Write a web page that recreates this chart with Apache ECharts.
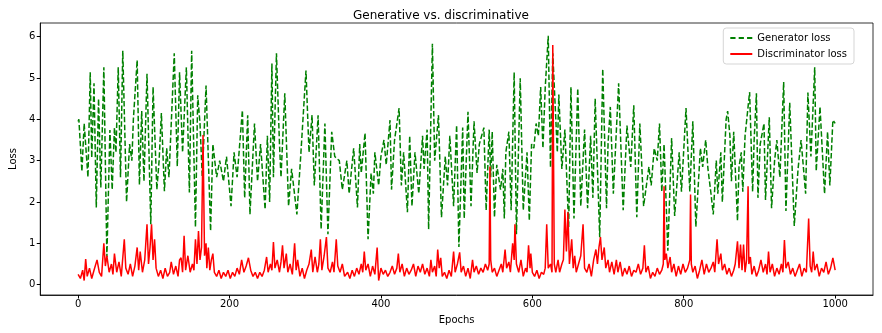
<!DOCTYPE html>
<html>
<head>
<meta charset="utf-8">
<script src="https://cdn.jsdelivr.net/npm/echarts@6/dist/echarts.min.js"></script>
<style>
  body { margin: 0; background: #fff; }
  #chart { width: 882px; height: 333px; }
</style>
</head>
<body>
<div id="chart"></div>
<script>
// generator loss (epoch, loss)
var genEpochs = [0, 1, 5, 8, 13, 16, 18, 21, 24, 27, 30, 34, 38, 42, 45, 48, 50, 53, 56, 59, 64, 68, 71, 73, 78, 81, 84, 87, 91, 96, 99, 104, 107, 110, 114, 117, 120, 127, 131, 134, 138, 143, 147, 150, 155, 158, 161, 164, 169, 175, 178, 183, 187, 192, 196, 202, 206, 210, 217, 220, 224, 227, 233, 237, 241, 247, 250, 253, 256, 258, 262, 266, 268, 273, 278, 282, 289, 294, 301, 305, 309, 312, 317, 321, 326, 330, 335, 339, 345, 349, 355, 358, 364, 369, 372, 374, 379, 383, 387, 390, 392, 397, 400, 404, 407, 412, 414, 418, 424, 427, 430, 435, 438, 441, 445, 450, 455, 457, 461, 463, 468, 471, 476, 480, 485, 488, 491, 496, 500, 503, 508, 510, 515, 519, 523, 527, 530, 536, 539, 543, 545, 547, 550, 553, 558, 561, 563, 565, 569, 572, 576, 579, 584, 588, 593, 596, 599, 602, 605, 608, 611, 614, 617, 621, 624, 627, 633, 635, 639, 643, 648, 651, 655, 660, 664, 669, 673, 677, 680, 683, 689, 693, 698, 700, 703, 707, 714, 720, 725, 730, 734, 738, 742, 747, 754, 757, 761, 765, 768, 771, 774, 779, 784, 788, 794, 797, 803, 808, 812, 816, 822, 825, 829, 832, 836, 839, 843, 845, 849, 851, 856, 858, 861, 863, 866, 871, 873, 876, 878, 881, 887, 891, 893, 896, 898, 901, 906, 908, 913, 916, 920, 923, 927, 932, 935, 940, 946, 951, 955, 961, 964, 968, 973, 975, 980, 986, 990, 993, 997, 1000];
var genLoss = [3.95, 4.0, 2.74, 3.9, 2.6, 5.14, 3.07, 4.87, 1.87, 4.5, 2.35, 5.26, 0.67, 3.74, 2.3, 3.8, 3.2, 5.26, 2.6, 5.66, 2.0, 3.4, 3.0, 4.0, 5.43, 2.42, 4.2, 2.5, 5.1, 1.46, 4.78, 2.3, 3.0, 4.15, 2.26, 3.3, 2.6, 5.6, 2.86, 5.14, 3.2, 5.26, 2.23, 5.66, 1.39, 4.58, 3.9, 2.6, 4.82, 1.3, 3.4, 2.6, 3.0, 2.5, 3.1, 1.9, 3.2, 2.6, 4.22, 2.1, 4.1, 1.7, 3.9, 2.5, 3.4, 1.82, 3.6, 2.0, 5.35, 2.6, 5.6, 3.4, 2.6, 4.63, 1.9, 2.8, 1.7, 3.1, 5.18, 3.2, 4.1, 2.4, 4.1, 1.34, 3.9, 1.22, 3.7, 3.1, 3.0, 2.3, 3.0, 2.2, 3.3, 1.87, 3.4, 2.7, 3.67, 1.1, 2.7, 2.2, 3.2, 2.4, 3.1, 3.5, 2.9, 3.98, 2.3, 3.5, 4.27, 2.4, 3.2, 1.75, 3.6, 1.9, 3.2, 2.2, 3.6, 2.8, 3.75, 1.34, 5.83, 3.0, 4.1, 1.63, 3.1, 2.4, 3.6, 1.9, 3.86, 0.91, 3.8, 1.6, 4.18, 1.9, 3.95, 2.7, 3.4, 3.8, 1.8, 3.75, 2.6, 3.7, 1.63, 2.9, 2.3, 2.8, 1.6, 3.2, 3.7, 1.8, 5.14, 1.22, 4.99, 1.8, 3.2, 1.55, 3.4, 3.3, 3.9, 3.6, 4.78, 3.3, 4.75, 6.02, 2.83, 5.6, 3.2, 4.6, 2.8, 3.75, 1.39, 4.78, 1.6, 4.75, 1.9, 3.75, 1.85, 3.6, 2.1, 4.5, 1.15, 5.22, 1.85, 3.4, 4.3, 2.2, 4.87, 1.8, 3.85, 2.85, 4.34, 1.63, 3.9, 1.9, 2.85, 2.4, 3.3, 3.0, 3.9, 2.25, 3.4, 0.82, 3.55, 1.66, 3.2, 2.25, 4.27, 2.25, 3.95, 1.4, 3.3, 2.85, 3.5, 2.8, 2.2, 1.7, 3.0, 2.2, 3.2, 2.0, 4.0, 4.2, 3.6, 2.5, 3.7, 1.54, 2.85, 3.2, 2.25, 3.6, 4.66, 2.25, 3.5, 4.63, 2.1, 3.4, 3.9, 2.05, 4.05, 1.85, 3.0, 3.5, 2.6, 4.9, 1.78, 4.4, 1.42, 2.8, 3.5, 2.2, 4.65, 3.1, 5.26, 2.75, 4.3, 2.2, 3.7, 2.4, 3.98, 3.9];

// discriminator loss (epoch, loss)
var discEpochs = [0, 3, 6, 8, 10, 12, 15, 18, 21, 25, 28, 31, 34, 36, 38, 41, 44, 46, 48, 51, 54, 57, 61, 63, 66, 69, 72, 75, 78, 80, 82, 85, 88, 91, 93, 95, 97, 99, 101, 103, 106, 109, 112, 115, 118, 121, 123, 126, 129, 132, 134, 136, 138, 140, 142, 145, 148, 151, 153, 155, 157, 159, 161, 163, 165, 167, 169, 170, 172, 174, 176, 178, 180, 183, 186, 189, 192, 195, 198, 201, 204, 207, 210, 213, 216, 219, 222, 225, 228, 231, 234, 237, 240, 243, 246, 249, 251, 254, 256, 258, 260, 263, 266, 268, 270, 272, 275, 277, 280, 283, 286, 288, 290, 293, 296, 299, 302, 305, 308, 310, 313, 316, 318, 320, 322, 325, 328, 330, 333, 336, 338, 341, 343, 346, 349, 352, 356, 359, 362, 365, 368, 371, 374, 376, 378, 380, 383, 386, 389, 392, 395, 397, 400, 403, 406, 409, 412, 415, 418, 421, 423, 425, 428, 431, 434, 437, 440, 443, 446, 449, 452, 455, 458, 461, 464, 466, 468, 471, 473, 475, 477, 479, 481, 484, 487, 490, 493, 496, 498, 501, 504, 506, 509, 512, 515, 518, 521, 523, 526, 529, 532, 535, 538, 541, 543, 544, 545, 547, 550, 553, 556, 559, 561, 564, 566, 569, 571, 574, 576, 577, 579, 582, 585, 588, 591, 593, 595, 597, 598, 600, 603, 606, 609, 612, 615, 617, 619, 621, 624, 626, 627, 629, 631, 634, 636, 639, 641, 643, 645, 647, 649, 652, 654, 656, 658, 661, 664, 667, 669, 672, 675, 678, 681, 684, 686, 688, 690, 692, 695, 697, 700, 702, 705, 708, 711, 713, 716, 719, 722, 725, 728, 731, 734, 737, 740, 743, 746, 748, 750, 753, 756, 759, 762, 765, 768, 771, 773, 774, 775, 777, 779, 782, 784, 787, 790, 793, 796, 799, 802, 805, 808, 809, 810, 812, 815, 818, 821, 824, 827, 830, 833, 836, 839, 841, 844, 846, 849, 851, 854, 857, 860, 863, 866, 868, 871, 873, 875, 877, 879, 881, 883, 885, 886, 888, 890, 893, 896, 899, 902, 905, 908, 910, 912, 914, 917, 920, 923, 926, 929, 931, 933, 935, 938, 941, 944, 947, 950, 953, 956, 959, 962, 965, 967, 969, 971, 973, 976, 979, 982, 985, 988, 991, 994, 997, 1000];
var discLoss = [0.25, 0.15, 0.35, 0.1, 0.62, 0.2, 0.4, 0.15, 0.35, 0.6, 0.3, 0.2, 1.0, 0.45, 0.7, 0.3, 0.5, 0.25, 0.75, 0.3, 0.55, 0.2, 1.1, 0.4, 0.25, 0.5, 0.2, 0.45, 0.9, 0.35, 0.8, 0.3, 0.6, 1.46, 0.5, 0.9, 1.46, 0.6, 1.1, 0.4, 0.2, 0.35, 0.15, 0.4, 0.2, 0.3, 0.55, 0.25, 0.45, 0.2, 0.6, 0.65, 0.3, 1.18, 0.35, 0.7, 0.3, 0.5, 0.35, 1.1, 0.5, 1.3, 0.6, 0.9, 3.62, 0.7, 1.0, 0.4, 0.9, 0.35, 0.6, 0.75, 0.3, 0.2, 0.35, 0.15, 0.3, 0.2, 0.35, 0.15, 0.3, 0.2, 0.4, 0.25, 0.6, 0.3, 0.45, 0.65, 0.35, 0.2, 0.3, 0.15, 0.3, 0.2, 0.35, 0.67, 0.3, 0.5, 0.35, 1.03, 0.4, 0.6, 0.3, 0.55, 0.95, 0.4, 0.75, 0.3, 0.5, 0.25, 1.0, 0.35, 0.6, 0.2, 0.4, 0.15, 0.35, 0.5, 0.85, 0.3, 0.67, 0.3, 0.5, 1.1, 0.35, 0.7, 1.15, 0.4, 0.3, 0.55, 0.3, 1.1, 0.45, 0.3, 0.5, 0.2, 0.3, 0.15, 0.35, 0.2, 0.4, 0.25, 0.5, 0.3, 0.8, 0.35, 0.5, 0.2, 0.45, 0.25, 0.9, 0.1, 0.4, 0.25, 0.35, 0.2, 0.3, 0.45, 0.25, 0.4, 0.75, 0.3, 0.5, 0.2, 0.4, 0.25, 0.35, 0.5, 0.2, 0.45, 0.3, 0.5, 0.25, 0.4, 0.2, 0.6, 0.3, 0.45, 0.2, 0.85, 0.4, 0.65, 0.2, 0.3, 0.15, 0.35, 0.2, 0.8, 0.3, 0.5, 0.78, 0.3, 0.45, 0.2, 0.4, 0.15, 0.6, 0.3, 0.45, 0.25, 0.4, 0.3, 0.5, 0.35, 0.5, 2.86, 0.6, 0.3, 0.4, 0.2, 0.35, 0.5, 0.3, 0.85, 0.4, 0.55, 0.3, 1.0, 0.6, 1.46, 0.5, 0.3, 0.6, 0.2, 0.4, 0.3, 0.95, 0.4, 0.75, 0.3, 0.2, 0.35, 0.15, 0.3, 0.25, 0.4, 1.46, 0.4, 0.5, 0.3, 5.8, 0.5, 0.3, 0.6, 0.3, 0.5, 0.6, 1.82, 0.8, 1.75, 0.5, 1.1, 0.4, 0.7, 0.3, 0.5, 0.7, 1.46, 0.4, 0.3, 0.5, 0.2, 0.6, 0.85, 0.5, 0.9, 1.15, 0.6, 0.9, 0.4, 0.6, 0.3, 0.55, 0.25, 0.6, 0.3, 0.55, 0.2, 0.4, 0.25, 0.45, 0.2, 0.35, 0.3, 0.5, 0.25, 0.4, 0.95, 0.3, 0.45, 0.15, 0.3, 0.2, 0.4, 0.25, 0.35, 0.5, 2.38, 0.6, 0.75, 0.4, 0.67, 0.3, 0.5, 0.2, 0.45, 0.25, 0.5, 0.3, 0.4, 0.6, 2.18, 0.5, 0.3, 0.45, 0.15, 0.35, 0.6, 0.25, 0.5, 0.3, 0.4, 0.55, 0.3, 1.1, 0.5, 0.75, 0.35, 0.5, 0.25, 0.4, 0.2, 0.35, 0.5, 1.05, 0.4, 0.97, 0.35, 0.97, 0.3, 0.6, 2.38, 0.5, 0.67, 0.25, 0.45, 0.2, 0.35, 0.6, 0.3, 0.5, 0.25, 0.8, 0.3, 0.5, 0.2, 0.4, 0.25, 0.5, 0.3, 1.08, 0.4, 0.55, 0.25, 0.4, 0.2, 0.35, 0.5, 0.2, 0.4, 0.3, 1.6, 0.45, 0.3, 0.8, 0.35, 0.5, 0.2, 0.4, 0.3, 0.55, 0.25, 0.4, 0.65, 0.35];

var xTicks = [0, 200, 400, 600, 800, 1000];
var yTicks = [0, 1, 2, 3, 4, 5, 6];

function pairs (xs, ys) {
  var out = [];
  for (var i = 0; i < xs.length; i++) {
    out.push([xs[i], ys[i]]);
  }
  return out;
}

var font = 'DejaVu Sans';
var chart = echarts.init(document.getElementById('chart'));
chart.setOption({
  animation: false,
  textStyle: { fontFamily: font },
  title: {
    text: 'Generative vs. discriminative',
    left: 'center',
    top: 5,
    textStyle: { fontFamily: font, fontSize: 12, fontWeight: 'normal', color: '#000' }
  },
  legend: {
    orient: 'vertical',
    right: 28,
    top: 28,
    align: 'left',
    itemWidth: 22,
    itemHeight: 10,
    itemGap: 6,
    padding: [5, 7, 5, 7],
    borderColor: '#d5d5d5',
    borderWidth: 1,
    borderRadius: 3,
    textStyle: { fontFamily: font, fontSize: 10, color: '#000' },
    data: [
      { name: 'Generator loss', icon: 'path://M0,4h5v2h-5z M8,4h5v2h-5z M16,4h5v2h-5z' },
      { name: 'Discriminator loss', icon: 'path://M0,4h22v2h-22z' }
    ]
  },
  // box round the plot, like matplotlib spines
  grid: { left: 35, right: 9, top: 23, bottom: 38, show: true, borderColor: '#000', borderWidth: 0.8 },
  xAxis: {
    type: 'value',
    min: -50,
    max: 1050,
    name: 'Epochs',
    nameLocation: 'middle',
    nameGap: 20,
    nameTextStyle: { fontFamily: font, fontSize: 10, color: '#000' },
    axisLine: { onZero: false, lineStyle: { color: '#000', width: 0.8 } },
    axisTick: { show: true, length: 3.5, customValues: xTicks, lineStyle: { color: '#000' } },
    axisLabel: {
      customValues: xTicks,
      fontSize: 10,
      color: '#000',
      margin: 4,
      formatter: function (v) { return String(v) }
    },
    splitLine: { show: false }
  },
  yAxis: {
    type: 'value',
    min: -0.25,
    max: 6.33,
    name: 'Loss',
    nameLocation: 'middle',
    nameGap: 21,
    nameTextStyle: { fontFamily: font, fontSize: 10, color: '#000' },
    axisLine: { show: true, onZero: false, lineStyle: { color: '#000', width: 0.8 } },
    axisTick: { show: true, length: 3.5, customValues: yTicks, lineStyle: { color: '#000' } },
    axisLabel: { customValues: yTicks, fontSize: 10, color: '#000', margin: 5 },
    splitLine: { show: false }
  },
  series: [
    {
      name: 'Generator loss',
      type: 'line',
      symbol: 'none',
      color: '#008000',
      lineStyle: { color: '#008000', width: 1.5, type: [5.5, 2.4] },
      data: pairs(genEpochs, genLoss)
    },
    {
      name: 'Discriminator loss',
      type: 'line',
      symbol: 'none',
      color: '#ff0000',
      lineStyle: { color: '#ff0000', width: 1.5 },
      data: pairs(discEpochs, discLoss)
    }
  ]
});
</script>
</body>
</html>
